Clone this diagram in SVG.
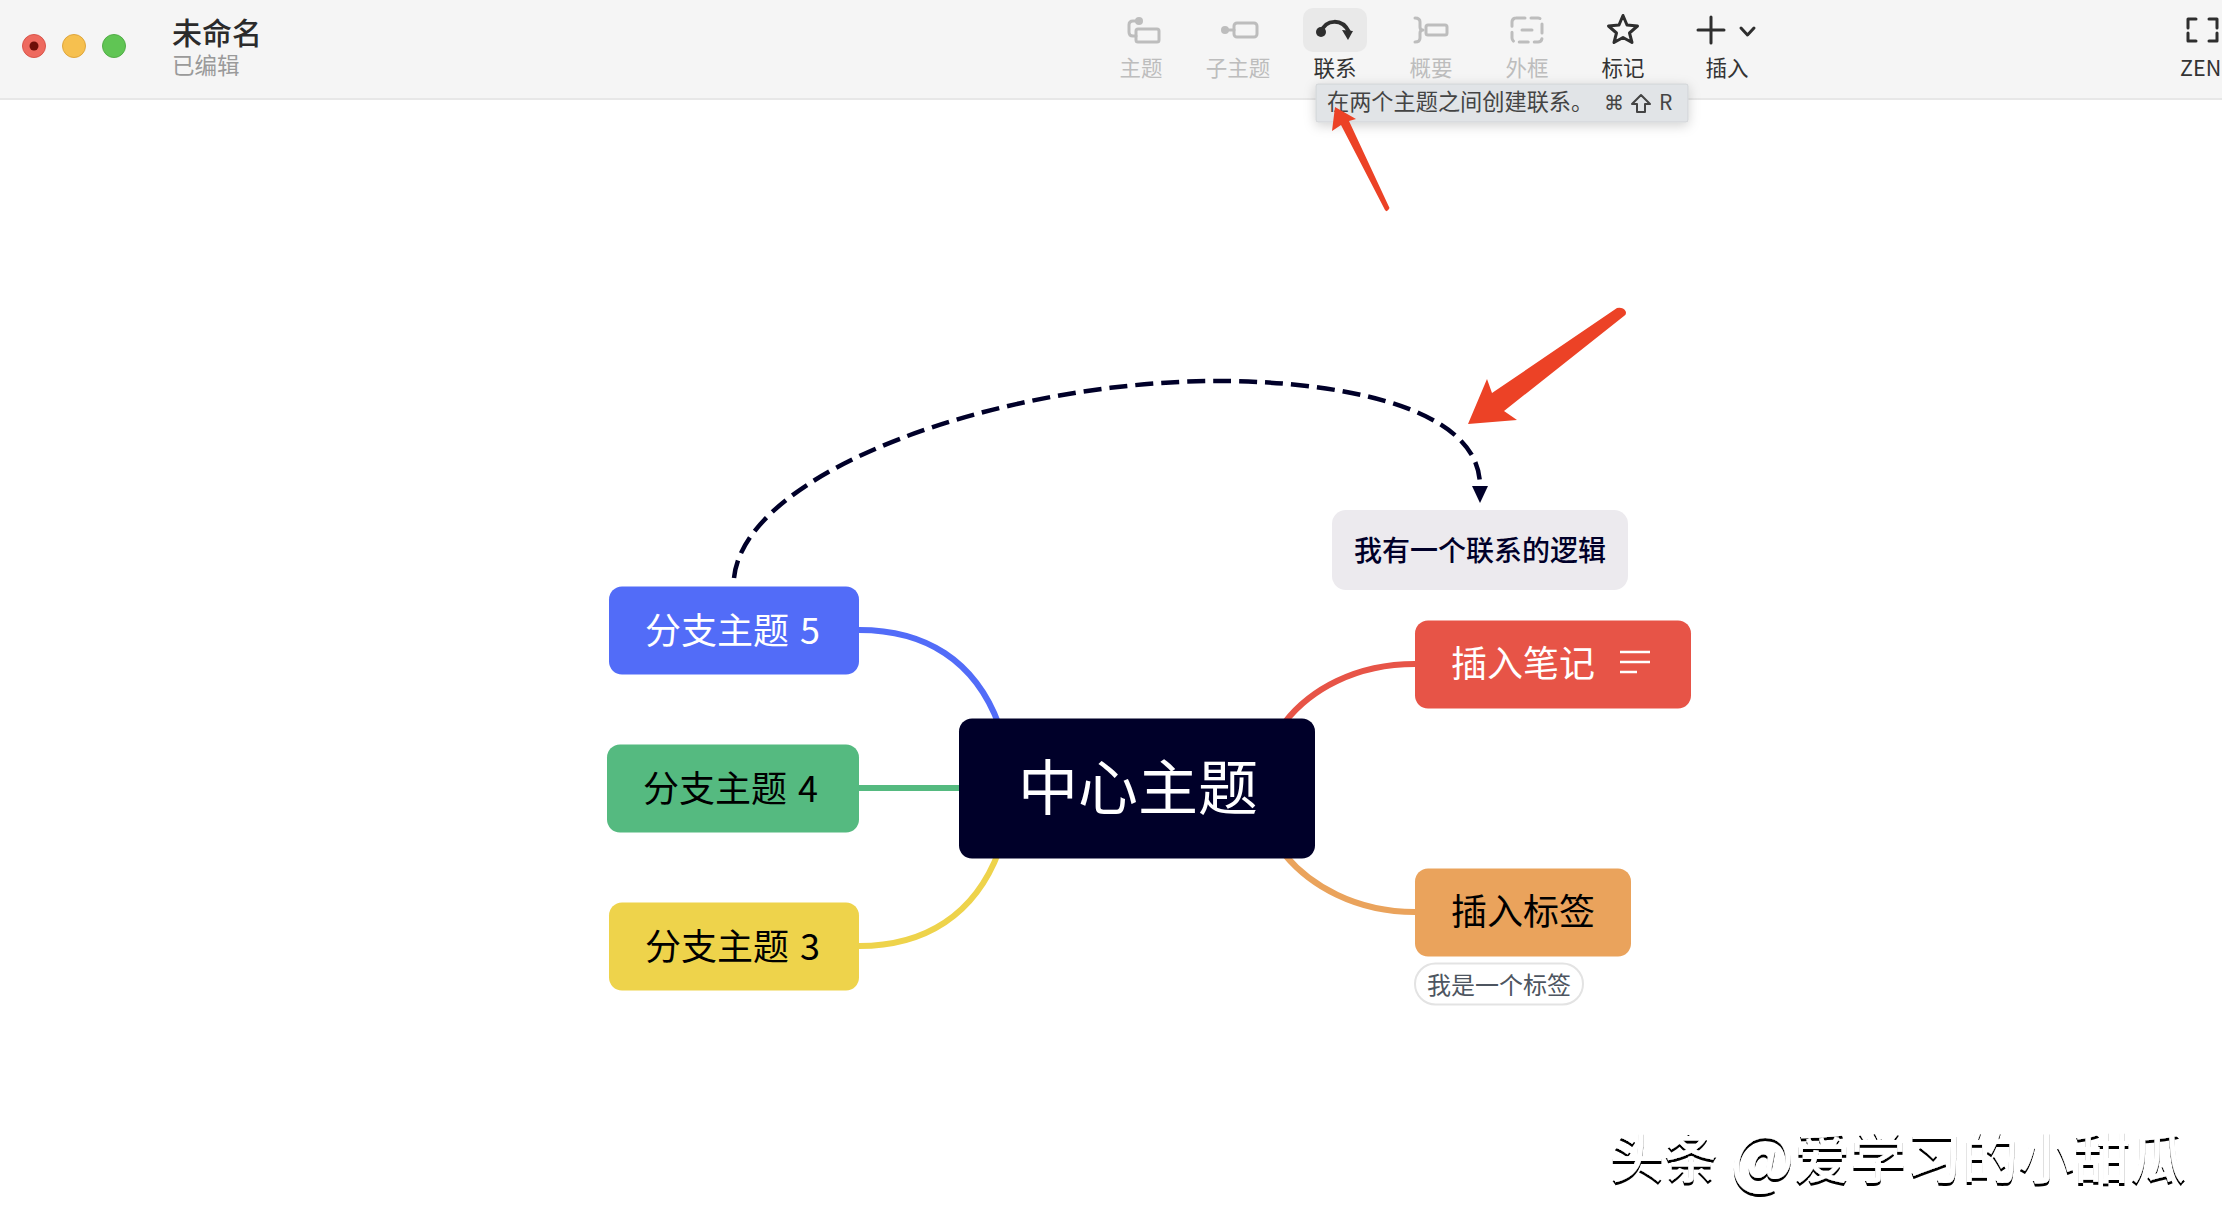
<svg xmlns="http://www.w3.org/2000/svg" width="2222" height="1224" viewBox="0 0 2222 1224">
<style>
text{font-family:"Noto Sans CJK SC","Noto Sans",sans-serif}
.bar{font-size:21.5px;text-anchor:middle}
.off{fill:#bdbdbd}
.on{fill:#333}
.ic{fill:none;stroke:#bdbdbd;stroke-width:3;stroke-linecap:round;stroke-linejoin:round}
.ico{fill:none;stroke:#2e2e2e;stroke-width:3;stroke-linecap:round;stroke-linejoin:round}
.t{font-size:36px;word-spacing:3px}
.w{fill:#fff}
.k{fill:#000}
.conn{fill:none;stroke-width:6}
.red{fill:#ec4226}
</style>
<defs>
<filter id="tipShadow" x="-10%" y="-50%" width="120%" height="220%"><feDropShadow dx="0" dy="3" stdDeviation="6" flood-color="#000" flood-opacity="0.18"/></filter>
<filter id="emboss" x="-5%" y="-20%" width="110%" height="140%"><feOffset in="SourceAlpha" dx="-0.5" dy="3" result="o"/><feGaussianBlur in="o" stdDeviation="0.5" result="b"/><feFlood flood-color="#000"/><feComposite in2="b" operator="in" result="s"/><feMerge><feMergeNode in="s"/><feMergeNode in="SourceGraphic"/></feMerge></filter>
<marker id="tri" markerUnits="userSpaceOnUse" markerWidth="18" markerHeight="18" refX="0" refY="8" orient="auto"><path d="M0 0L17 8L0 16Z" fill="#000029"/></marker>
</defs>
<rect width="2222" height="1224" fill="#fff"/>
<g id="toolbar">
<rect width="2222" height="98" fill="#f5f5f5"/>
<rect y="98" width="2222" height="2" fill="#e7e7e7"/>
<circle cx="34" cy="46" r="11.5" fill="#ee6a5f" stroke="#d9554b" stroke-width="1"/>
<circle cx="34" cy="46" r="4.5" fill="#6e0f08"/>
<circle cx="74" cy="46" r="11.5" fill="#f6c04f" stroke="#dfa63c" stroke-width="1"/>
<circle cx="114" cy="46" r="11.5" fill="#60c554" stroke="#52ad47" stroke-width="1"/>
<text x="172" y="44" font-size="30" font-weight="500" fill="#2b2b2b">未命名</text>
<text x="172" y="74" font-size="22.500" fill="#9a9a9a">已编辑</text>
<rect x="1303" y="8" width="64" height="44" rx="10" fill="#e9e9e9"/>
<circle cx="1139" cy="21" r="4" fill="#bdbdbd"/>
<path class="ic" d="M1139 21H1133Q1129 21 1129 25V32Q1129 36 1133 36H1136"/>
<rect class="ic" x="1136" y="29" width="23" height="13" rx="2"/>
<circle cx="1225" cy="30" r="4" fill="#bdbdbd"/>
<path class="ic" d="M1225 30H1234"/>
<rect class="ic" x="1234" y="23" width="23" height="14" rx="3"/>
<circle cx="1321" cy="32" r="5" fill="#2e2e2e"/>
<path d="M1321 32C1326 19 1342 18 1349 32" fill="none" stroke="#2e2e2e" stroke-width="4"/>
<path d="M1342 30L1353 31L1348 40Z" fill="#2e2e2e"/>
<path class="ic" d="M1415 18Q1420 18 1420 22V27Q1420 30 1423 30Q1420 30 1420 33V38Q1420 42 1415 42"/>
<rect class="ic" x="1426" y="25" width="21" height="10" rx="2"/>
<rect class="ic" x="1512" y="18" width="30" height="24" rx="4" stroke-dasharray="9 6"/>
<path class="ic" d="M1522 30H1532"/>
<path class="ico" d="M1623 15.500L1627 25L1637.500 26L1629.500 33L1632 42.500L1623 37.500L1614 42.500L1616.500 33L1608.500 26L1619 25Z"/>
<path class="ico" d="M1698 30H1724M1711 17V43"/>
<path class="ico" d="M1741 28L1747.500 35L1754 28"/>
<path class="ico" d="M2196 19H2188V28M2209 19H2217V28M2188 33V41H2196M2217 33V41H2209"/>
<text class="bar off" x="1141" y="76">主题</text>
<text class="bar off" x="1238" y="76">子主题</text>
<text class="bar on" x="1335" y="76">联系</text>
<text class="bar off" x="1431" y="76">概要</text>
<text class="bar off" x="1527" y="76">外框</text>
<text class="bar on" x="1623" y="76">标记</text>
<text class="bar on" x="1727" y="76">插入</text>
<text x="2180" y="76" font-size="21.500" fill="#333">ZEN</text>
</g>
<g id="tooltip">
<rect x="1316" y="84" width="372" height="38" rx="2" fill="#e1e4e7" stroke="#d0d3d6" filter="url(#tipShadow)"/>
<text x="1327" y="110" font-size="22.200" fill="#444">在两个主题之间创建联系。</text>
<text x="1604" y="110" font-size="20" fill="#444" style="font-family:'DejaVu Sans',sans-serif">⌘</text>
<path d="M1641 95L1650 104H1645V112H1637V104H1632Z" fill="none" stroke="#444" stroke-width="2" stroke-linejoin="round"/>
<text x="1659" y="110" font-size="21" fill="#444">R</text>
</g>
<g id="connectors">
<path class="conn" stroke="#526cf8" d="M859 630C925 630 975 660 999 725"/>
<path class="conn" stroke="#55ba80" d="M859 788H959"/>
<path class="conn" stroke="#eed34b" d="M859 946C925 946 975 915 999 851"/>
<path class="conn" stroke="#e75447" d="M1415 664C1355 664 1310 690 1285 722"/>
<path class="conn" stroke="#eaa35c" d="M1415 912C1355 912 1310 885 1285 855"/>
<path id="relation" fill="none" stroke="#000029" stroke-width="4.500" stroke-dasharray="18 8" d="M734 578C745 471 1000 381 1219 381C1320 381 1480 401 1480 486" marker-end="url(#tri)"/>
</g>
<g id="center"><rect x="959" y="718.500" width="356" height="140" rx="13" fill="#000029"/><text x="1138" y="810" font-size="60" text-anchor="middle" class="w">中心主题</text></g>
<g id="branch5"><rect x="609" y="586.500" width="250" height="88" rx="13" fill="#526cf8"/><text x="645" y="644" class="t w">分支主题 5</text></g>
<g id="branch4"><rect x="607" y="744.500" width="252" height="88" rx="13" fill="#55ba80"/><text x="643" y="802" class="t k">分支主题 4</text></g>
<g id="branch3"><rect x="609" y="902.500" width="250" height="88" rx="13" fill="#eed34b"/><text x="645" y="960" class="t k">分支主题 3</text></g>
<g id="note"><rect x="1415" y="620.500" width="276" height="88" rx="13" fill="#e75447"/><text x="1451" y="677" class="t w">插入笔记</text><path d="M1620 652H1650M1620 662H1650M1620 672H1637" stroke="#fff" stroke-width="2.500" fill="none"/></g>
<g id="tagnode"><rect x="1415" y="868.500" width="216" height="88" rx="13" fill="#eaa35c"/><text x="1451" y="925" class="t k">插入标签</text></g>
<g id="tag"><rect x="1415" y="963.500" width="168" height="41" rx="20.500" fill="#fff" stroke="#e3e3e3" stroke-width="2"/><text x="1427" y="994" font-size="24" fill="#4d5560">我是一个标签</text></g>
<g id="relnode"><rect x="1332" y="510" width="296" height="80" rx="14" fill="#eceaee"/><text x="1480" y="561" font-size="28" font-weight="500" text-anchor="middle" fill="#000029">我有一个联系的逻辑</text></g>
<g id="annotations">
<path class="red" d="M1335 107L1332 131L1341 125L1385 210Q1387 213 1389.500 208L1349 121L1356 119Z"/>
<path class="red" d="M1468 424L1487 379L1492 393L1617 308Q1623 307 1625.500 311Q1627 314 1624 316L1504 411L1517 420Z"/>
</g>
<text id="watermark" x="1610" y="1178" font-size="54" font-weight="500" fill="#fff" filter="url(#emboss)">头条 <tspan font-size="66" dy="4">@</tspan><tspan font-size="56" dy="-4">爱学习的小甜瓜</tspan></text>
</svg>
